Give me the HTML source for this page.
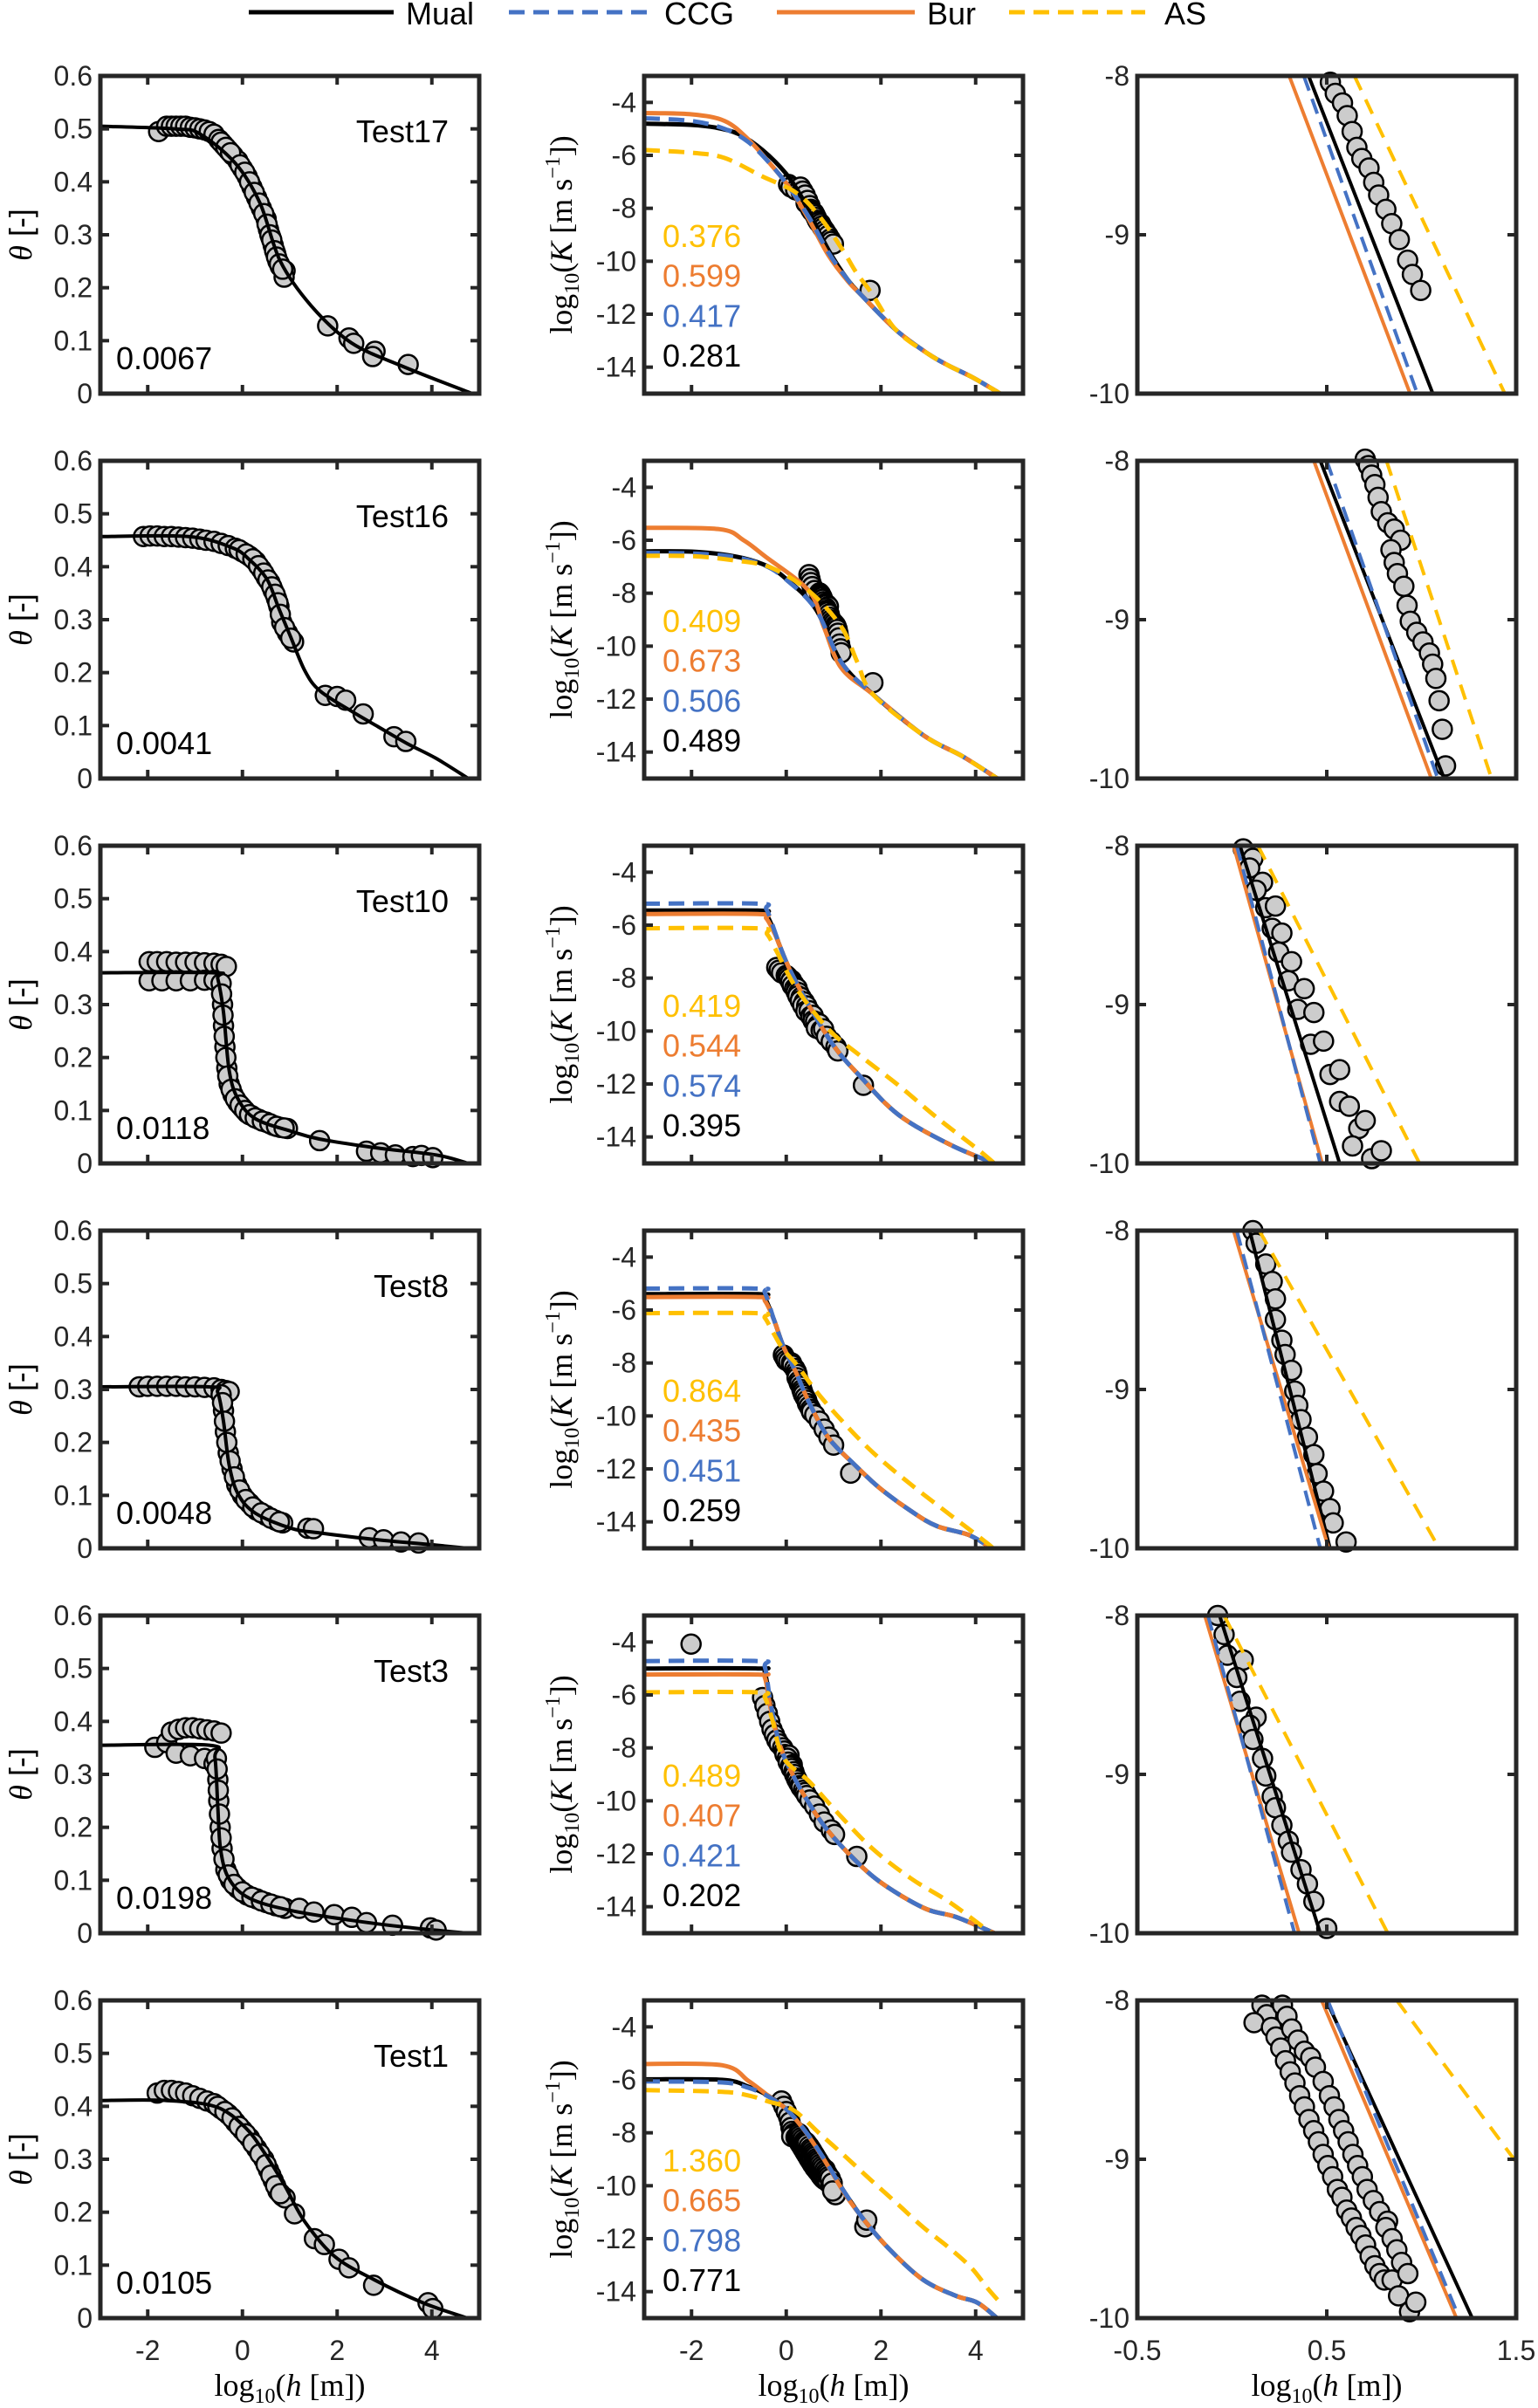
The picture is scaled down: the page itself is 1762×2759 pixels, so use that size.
<!DOCTYPE html>
<html><head><meta charset="utf-8">
<style>
html,body{margin:0;padding:0;background:#fff;}
svg{display:block;}
text{font-family:"Liberation Sans",sans-serif;}
.serif{font-family:"Liberation Serif",serif;}
</style></head>
<body>
<svg id="fig" xmlns="http://www.w3.org/2000/svg" width="1762" height="2759" viewBox="0 0 1762 2759">
<rect x="0" y="0" width="1762" height="2759" fill="#fff"/>
<g id="legend">
  <g><line x1="285" y1="14" x2="451" y2="14" stroke="#000" stroke-width="5"/><text x="465" y="28" font-size="36">Mual</text></g>
  <g><line x1="583" y1="14" x2="746" y2="14" stroke="#4472C4" stroke-width="5" stroke-dasharray="18 10"/><text x="761" y="28" font-size="36">CCG</text></g>
  <g><line x1="890" y1="14" x2="1048" y2="14" stroke="#ED7D31" stroke-width="5"/><text x="1062" y="28" font-size="36">Bur</text></g>
  <g><line x1="1156" y1="14" x2="1312" y2="14" stroke="#FFC000" stroke-width="5" stroke-dasharray="18 10"/><text x="1334" y="28" font-size="36">AS</text></g>
</g>
</svg>
<script>
const tests=["Test17","Test16","Test10","Test8","Test3","Test1"];
const rmseTheta=["0.0067","0.0041","0.0118","0.0048","0.0198","0.0105"];
const scoreAS=["0.376","0.409","0.419","0.864","0.489","1.360"];
const scoreBur=["0.599","0.673","0.544","0.435","0.407","0.665"];
const scoreCCG=["0.417","0.506","0.574","0.451","0.421","0.798"];
const scoreMual=["0.281","0.489","0.395","0.259","0.202","0.771"];

const thetaTicks=[0,0.1,0.2,0.3,0.4,0.5,0.6];
const thetaTickLabels=["0","0.1","0.2","0.3","0.4","0.5","0.6"];
const hTicks=[-2,0,2,4];
const hTickLabels=["-2","0","2","4"];
const kTicks=[-4,-6,-8,-10,-12,-14];
const kTickLabels=["-4","-6","-8","-10","-12","-14"];
const zxTicks=[-0.5,0.5,1.5];
const zxTickLabels=["-0.5","0.5","1.5"];
const zyTicks=[-8,-9,-10];
const zyTickLabels=["-8","-9","-10"];

const thetaFit=[
[[-3,0.505],[-1.4,0.50],[-0.89,0.49],[-0.15,0.435],[0.37,0.36],[0.8,0.25],[1.45,0.166],[2.3,0.096],[3.4,0.051],[4.85,0.0]],
[[-3,0.457],[-1.14,0.457],[-0.22,0.436],[0.15,0.413],[0.52,0.376],[0.77,0.321],[1.02,0.267],[1.32,0.203],[1.63,0.166],[2.25,0.130],[2.86,0.098],[3.48,0.066],[4.09,0.038],[4.77,0]],
[[-3,0.36],[-0.6,0.36],[-0.52,0.349],[-0.4,0.285],[-0.28,0.175],[-0.09,0.121],[0.28,0.084],[1.02,0.061],[1.63,0.046],[2.86,0.029],[4.09,0.016],[4.77,0]],
[[-3,0.305],[-0.71,0.305],[-0.52,0.294],[-0.4,0.239],[-0.28,0.157],[-0.09,0.102],[0.28,0.066],[1.02,0.038],[1.63,0.029],[2.86,0.016],[4.09,0.006],[4.77,0]],
[[-3,0.355],[-0.7,0.355],[-0.58,0.331],[-0.52,0.239],[-0.46,0.157],[-0.28,0.102],[0.15,0.066],[1.02,0.043],[2.25,0.025],[3.48,0.011],[4.77,0]],
[[-3,0.411],[-1.6,0.411],[-0.56,0.399],[0.06,0.36],[0.48,0.31],[0.9,0.249],[1.31,0.183],[1.94,0.117],[2.77,0.073],[3.81,0.029],[4.75,0]]
];
const thetaObs=[
[[-1.77,0.495],[-1.6,0.505],[-1.5,0.505],[-1.4,0.505],[-1.3,0.505],[-1.2,0.505],[-1.1,0.503],[-1.0,0.502],[-0.9,0.5],[-0.8,0.498],[-0.7,0.495],[-0.6,0.49],[-0.5,0.48],[-0.4,0.47],[-0.3,0.46],[-0.2,0.45],[-0.1,0.44],[0.0,0.425],[0.1,0.41],[0.2,0.39],[0.3,0.37],[0.4,0.35],[0.5,0.33],[0.55,0.31],[0.6,0.295],[0.65,0.28],[0.7,0.265],[0.75,0.25],[0.8,0.24],[0.9,0.232],[0.88,0.22],[-0.45,0.475],[-0.35,0.465],[-0.25,0.455],[-0.05,0.432],[0.05,0.418],[0.15,0.4],[0.25,0.38],[0.35,0.36],[0.45,0.34],[0.52,0.32],[0.58,0.3],[0.62,0.29],[0.68,0.27],[0.72,0.258],[0.78,0.245],[0.85,0.235],[1.8,0.128],[2.25,0.105],[2.35,0.095],[2.8,0.08],[2.75,0.07],[3.5,0.055]],
[[-2.09,0.457],[-1.95,0.458],[-1.8,0.458],[-1.65,0.457],[-1.5,0.457],[-1.35,0.456],[-1.2,0.455],[-1.05,0.454],[-0.9,0.452],[-0.77,0.45],[-0.6,0.448],[-0.45,0.444],[-0.3,0.44],[-0.15,0.435],[0.0,0.428],[0.15,0.42],[0.28,0.41],[0.4,0.395],[0.5,0.38],[0.58,0.37],[0.65,0.355],[0.72,0.34],[0.77,0.325],[0.83,0.295],[0.95,0.275],[1.08,0.258],[-0.07,0.432],[0.08,0.424],[0.22,0.415],[0.34,0.402],[0.45,0.388],[0.54,0.375],[0.62,0.362],[0.69,0.348],[0.75,0.332],[0.8,0.31],[0.89,0.285],[1.02,0.265],[1.75,0.157],[2.0,0.155],[2.18,0.148],[2.55,0.122],[3.2,0.079],[3.45,0.07]],
[[-1.97,0.381],[-1.8,0.381],[-1.6,0.381],[-1.4,0.38],[-1.2,0.38],[-1.0,0.38],[-0.8,0.379],[-0.6,0.378],[-0.45,0.376],[-0.34,0.372],[-1.97,0.345],[-1.7,0.345],[-1.4,0.345],[-1.1,0.345],[-0.8,0.346],[-0.6,0.346],[-0.45,0.34],[-0.42,0.3],[-0.4,0.26],[-0.37,0.22],[-0.33,0.18],[-0.28,0.15],[-0.2,0.13],[-0.1,0.115],[0.0,0.105],[0.1,0.095],[0.2,0.09],[0.35,0.083],[0.5,0.078],[0.65,0.072],[0.8,0.068],[0.95,0.066],[-0.44,0.32],[-0.41,0.28],[-0.385,0.24],[-0.35,0.2],[-0.31,0.165],[-0.24,0.14],[-0.15,0.122],[-0.05,0.11],[0.05,0.1],[0.15,0.092],[0.27,0.086],[0.42,0.08],[0.58,0.075],[0.72,0.07],[0.88,0.067],[1.63,0.043],[2.62,0.023],[2.92,0.02],[3.23,0.016],[3.6,0.013],[3.78,0.015],[4.02,0.011]],
[[-2.18,0.305],[-2.0,0.306],[-1.8,0.306],[-1.6,0.306],[-1.4,0.306],[-1.2,0.305],[-1.0,0.305],[-0.8,0.304],[-0.6,0.303],[-0.45,0.3],[-0.35,0.298],[-0.28,0.296],[-0.45,0.29],[-0.4,0.26],[-0.36,0.22],[-0.3,0.18],[-0.22,0.15],[-0.12,0.12],[0.0,0.1],[0.15,0.085],[0.3,0.072],[0.5,0.062],[0.7,0.053],[0.85,0.048],[-0.42,0.275],[-0.38,0.24],[-0.33,0.2],[-0.26,0.165],[-0.17,0.135],[-0.06,0.11],[0.07,0.092],[0.22,0.078],[0.4,0.067],[0.6,0.057],[0.78,0.05],[1.38,0.038],[1.5,0.037],[2.68,0.02],[2.98,0.016],[3.35,0.012],[3.72,0.01]],
[[-1.85,0.351],[-1.6,0.36],[-1.5,0.38],[-1.35,0.385],[-1.2,0.388],[-1.05,0.388],[-0.9,0.386],[-0.75,0.384],[-0.6,0.382],[-0.45,0.378],[-1.4,0.34],[-1.1,0.335],[-0.8,0.33],[-0.6,0.32],[-0.55,0.33],[-0.52,0.29],[-0.5,0.25],[-0.47,0.2],[-0.43,0.16],[-0.35,0.12],[-0.25,0.1],[-0.1,0.085],[0.1,0.072],[0.3,0.065],[0.5,0.058],[0.7,0.052],[0.9,0.047],[-0.535,0.31],[-0.51,0.27],[-0.485,0.225],[-0.45,0.18],[-0.39,0.14],[-0.3,0.11],[-0.18,0.092],[0.0,0.078],[0.2,0.068],[0.4,0.061],[0.6,0.055],[0.8,0.05],[1.2,0.047],[1.51,0.04],[1.94,0.035],[2.31,0.03],[2.62,0.02],[3.17,0.015],[3.97,0.01],[4.09,0.006]],
[[-1.8,0.425],[-1.65,0.43],[-1.5,0.43],[-1.35,0.428],[-1.2,0.425],[-1.05,0.42],[-0.9,0.415],[-0.75,0.41],[-0.6,0.405],[-0.45,0.395],[-0.3,0.385],[-0.15,0.37],[0.0,0.355],[0.15,0.34],[0.3,0.32],[0.45,0.3],[0.55,0.28],[0.65,0.26],[0.75,0.24],[0.85,0.23],[0.9,0.227],[-0.52,0.4],[-0.37,0.39],[-0.22,0.378],[-0.07,0.362],[0.07,0.348],[0.22,0.33],[0.37,0.31],[0.5,0.29],[0.6,0.27],[0.7,0.25],[0.8,0.235],[1.1,0.197],[1.52,0.15],[1.73,0.139],[2.04,0.111],[2.25,0.095],[2.77,0.062],[3.92,0.029],[4.02,0.018]]
];

const kMual=[
[[-3,-4.8],[-2,-4.85],[-1.5,-4.95],[-1,-5.2],[-0.5,-5.8],[0,-6.7],[0.3,-7.5],[0.5,-8.2],[0.9,-9.6],[1.3,-10.7],[1.6,-11.3],[2.32,-12.6],[3.0,-13.5],[3.45,-13.96],[3.95,-14.4],[4.52,-15]],
[[-3,-6.42],[-2,-6.43],[-1.14,-6.59],[-0.5,-6.9],[-0.06,-7.37],[0.62,-8.59],[1.16,-10.6],[1.83,-11.82],[2.91,-13.38],[3.72,-14.16],[4.46,-15]],
[[-3,-5.45],[-0.6,-5.45],[-0.42,-5.6],[-0.25,-6.25],[-0.13,-6.81],[0.08,-7.7],[0.48,-9.04],[1.02,-10.6],[1.56,-11.71],[2.37,-13.16],[3.45,-14.28],[4.4,-15]],
[[-3,-5.40],[-0.6,-5.40],[-0.45,-5.55],[-0.26,-6.36],[-0.06,-7.37],[0.21,-8.37],[0.48,-9.48],[0.89,-10.82],[1.43,-11.82],[1.97,-12.72],[2.64,-13.6],[3.18,-14.16],[3.86,-14.5],[4.33,-15]],
[[-3,-5.0],[-0.6,-5.0],[-0.45,-5.15],[-0.33,-6.4],[-0.13,-7.92],[0.21,-9.26],[0.75,-10.82],[1.29,-11.94],[1.97,-13.05],[2.91,-14.05],[3.59,-14.39],[4.4,-15]],
[[-3,-5.98],[-1.35,-6.0],[-0.8,-6.26],[-0.39,-6.59],[0.02,-7.14],[0.43,-8.0],[0.84,-9.1],[1.25,-10.3],[1.66,-11.33],[2.2,-12.44],[2.88,-13.54],[3.57,-14.15],[4.04,-14.42],[4.45,-15]]
];
const kCCG=[
[[-3,-4.6],[-2,-4.7],[-1.3,-5.0],[-0.8,-5.5],[-0.3,-6.4],[0.1,-7.3],[0.5,-8.4],[0.9,-9.7],[1.3,-10.7],[1.6,-11.3],[2.32,-12.6],[3.0,-13.5],[3.45,-13.96],[3.95,-14.4],[4.52,-15]],
[[-3,-6.48],[-2,-6.5],[-1.14,-6.62],[-0.5,-6.92],[-0.06,-7.4],[0.62,-8.6],[1.16,-10.6],[1.83,-11.82],[2.91,-13.38],[3.72,-14.16],[4.46,-15]],
[[-3,-5.19],[-0.6,-5.19],[-0.42,-5.4],[-0.25,-6.2],[-0.13,-6.81],[0.08,-7.7],[0.48,-9.04],[1.02,-10.6],[1.56,-11.71],[2.37,-13.16],[3.45,-14.28],[4.4,-15]],
[[-3,-5.19],[-0.6,-5.19],[-0.45,-5.35],[-0.26,-6.36],[-0.06,-7.37],[0.21,-8.37],[0.48,-9.48],[0.89,-10.82],[1.43,-11.82],[1.97,-12.72],[2.64,-13.6],[3.18,-14.16],[3.86,-14.5],[4.33,-15]],
[[-3,-4.72],[-0.6,-4.72],[-0.45,-4.95],[-0.33,-6.3],[-0.13,-7.92],[0.21,-9.26],[0.75,-10.82],[1.29,-11.94],[1.97,-13.05],[2.91,-14.05],[3.59,-14.39],[4.4,-15]],
[[-3,-6.06],[-1.35,-6.1],[-0.8,-6.3],[-0.39,-6.62],[0.02,-7.14],[0.43,-8.0],[0.84,-9.1],[1.25,-10.3],[1.66,-11.33],[2.2,-12.44],[2.88,-13.54],[3.57,-14.15],[4.04,-14.42],[4.45,-15]]
];
const kBur=[
[[-3,-4.4],[-2,-4.45],[-1.3,-4.7],[-0.8,-5.4],[-0.3,-6.4],[0.1,-7.3],[0.5,-8.5],[0.9,-9.8],[1.3,-10.75],[1.6,-11.3],[2.32,-12.6],[3.0,-13.5],[3.45,-13.96],[3.95,-14.4],[4.52,-15]],
[[-3,-5.53],[-1.41,-5.58],[-0.9,-6.0],[-0.46,-6.59],[0.48,-7.92],[0.8,-9.3],[1.16,-10.82],[1.83,-11.82],[2.91,-13.38],[3.72,-14.16],[4.46,-15]],
[[-3,-5.58],[-0.6,-5.58],[-0.42,-5.75],[-0.25,-6.3],[-0.13,-6.81],[0.08,-7.7],[0.48,-9.04],[1.02,-10.6],[1.56,-11.71],[2.37,-13.16],[3.45,-14.28],[4.4,-15]],
[[-3,-5.51],[-0.6,-5.51],[-0.45,-5.65],[-0.26,-6.36],[-0.06,-7.37],[0.21,-8.37],[0.48,-9.48],[0.89,-10.82],[1.43,-11.82],[1.97,-12.72],[2.64,-13.6],[3.18,-14.16],[3.86,-14.5],[4.33,-15]],
[[-3,-5.23],[-0.6,-5.23],[-0.45,-5.35],[-0.33,-6.5],[-0.13,-7.92],[0.21,-9.26],[0.75,-10.82],[1.29,-11.94],[1.97,-13.05],[2.91,-14.05],[3.59,-14.39],[4.4,-15]],
[[-3,-5.4],[-1.35,-5.45],[-0.8,-6.04],[-0.39,-6.59],[0.02,-7.14],[0.43,-8.02],[0.84,-9.13],[1.25,-10.34],[1.66,-11.33],[2.2,-12.44],[2.88,-13.54],[3.57,-14.15],[4.04,-14.42],[4.45,-15]]
];
const kAS=[
[[-3,-5.8],[-2,-5.9],[-1.3,-6.1],[-0.5,-6.8],[0.2,-7.4],[0.7,-8.3],[1.2,-9.6],[1.47,-10.4],[1.8,-11.2],[2.32,-12.6],[3.0,-13.5],[3.45,-13.96],[3.95,-14.4],[4.52,-15]],
[[-3,-6.59],[-2,-6.6],[-1.14,-6.75],[-0.33,-7.03],[0.48,-7.92],[1.16,-9.26],[1.5,-10.6],[1.83,-11.82],[2.91,-13.38],[3.72,-14.16],[4.46,-15]],
[[-3,-6.12],[-0.6,-6.12],[-0.4,-6.35],[-0.2,-7.0],[0.21,-8.37],[0.89,-9.93],[1.56,-10.93],[2.37,-12.05],[3.18,-13.27],[3.99,-14.39],[4.4,-15]],
[[-3,-6.12],[-0.6,-6.12],[-0.45,-6.3],[-0.26,-6.9],[-0.06,-7.5],[0.21,-8.04],[0.62,-9.04],[1.16,-10.15],[1.83,-11.38],[2.64,-12.6],[3.45,-13.72],[4.26,-14.83],[4.35,-15]],
[[-3,-5.9],[-0.6,-5.9],[-0.45,-6.1],[-0.3,-6.9],[-0.06,-8.37],[0.48,-9.26],[1.16,-10.6],[1.83,-11.82],[2.64,-12.94],[3.45,-13.83],[4.33,-15]],
[[-3,-6.39],[-1.35,-6.45],[-0.8,-6.59],[-0.39,-6.81],[0.15,-7.14],[0.7,-8.02],[1.25,-8.9],[1.79,-9.79],[2.34,-10.67],[2.88,-11.55],[3.43,-12.33],[3.91,-13.1],[4.25,-13.87],[4.52,-14.42]]
];
const kObs=[
[[0.05,-7.1],[0.1,-7.2],[0.2,-7.3],[0.3,-7.2],[0.32,-7.4],[0.35,-7.35],[0.4,-7.5],[0.42,-7.8],[0.45,-7.7],[0.5,-7.9],[0.519,-8.04],[0.545,-8.11],[0.583,-8.17],[0.608,-8.25],[0.634,-8.35],[0.659,-8.45],[0.685,-8.52],[0.723,-8.58],[0.748,-8.67],[0.774,-8.75],[0.812,-8.84],[0.843,-8.93],[0.883,-9.03],[0.927,-9.16],[0.952,-9.25],[0.996,-9.35],[1.77,-11.1]],
[[0.48,-7.3],[0.5,-7.45],[0.52,-7.6],[0.55,-7.75],[0.6,-7.9],[0.703,-7.99],[0.72,-8.03],[0.737,-8.09],[0.754,-8.15],[0.771,-8.23],[0.788,-8.32],[0.822,-8.39],[0.856,-8.43],[0.89,-8.5],[0.839,-8.56],[0.856,-8.64],[0.873,-8.71],[0.907,-8.79],[0.924,-8.91],[0.941,-9.01],[0.975,-9.08],[1.008,-9.14],[1.042,-9.21],[1.059,-9.28],[1.076,-9.37],[1.093,-9.51],[1.11,-9.69],[1.127,-9.92],[1.15,-10.1],[1.16,-10.25],[1.83,-11.38]],
[[-0.2,-7.6],[-0.15,-7.7],[-0.1,-7.8],[0.0,-7.9],[0.03,-7.95],[0.059,-8.02],[0.11,-8.08],[0.093,-8.14],[0.161,-8.23],[0.127,-8.28],[0.178,-8.39],[0.229,-8.38],[0.212,-8.52],[0.263,-8.55],[0.246,-8.67],[0.314,-8.73],[0.297,-8.85],[0.381,-8.9],[0.347,-9.03],[0.432,-9.05],[0.415,-9.25],[0.483,-9.23],[0.517,-9.44],[0.568,-9.41],[0.568,-9.61],[0.619,-9.64],[0.669,-9.78],[0.703,-9.73],[0.636,-9.89],[0.737,-9.97],[0.788,-9.92],[0.85,-10.2],[0.95,-10.4],[1.05,-10.6],[1.09,-10.75],[1.63,-12.05]],
[[-0.06,-7.7],[-0.03,-7.8],[0.0,-7.9],[0.05,-7.95],[0.11,-8.0],[0.127,-8.08],[0.178,-8.21],[0.212,-8.32],[0.229,-8.43],[0.229,-8.56],[0.263,-8.69],[0.28,-8.78],[0.314,-8.88],[0.331,-9.01],[0.347,-9.1],[0.364,-9.19],[0.398,-9.3],[0.432,-9.41],[0.449,-9.53],[0.483,-9.64],[0.517,-9.75],[0.534,-9.84],[0.602,-9.96],[0.7,-10.2],[0.8,-10.5],[0.9,-10.8],[1.0,-11.1],[1.36,-12.16]],
[[-2.01,-4.08],[-0.5,-6.1],[-0.45,-6.4],[-0.4,-6.7],[-0.35,-7.0],[-0.3,-7.3],[-0.25,-7.5],[-0.2,-7.7],[-0.15,-7.85],[-0.076,-8.0],[-0.042,-8.12],[-0.025,-8.25],[0.059,-8.28],[0.025,-8.39],[0.042,-8.54],[0.127,-8.64],[0.093,-8.69],[0.11,-8.78],[0.161,-8.9],[0.178,-9.01],[0.212,-9.14],[0.229,-9.21],[0.263,-9.32],[0.297,-9.42],[0.314,-9.49],[0.364,-9.6],[0.398,-9.69],[0.432,-9.8],[0.5,-9.97],[0.6,-10.2],[0.7,-10.5],[0.8,-10.8],[0.95,-11.1],[1.02,-11.27],[1.49,-12.1]],
[[-0.1,-6.8],[-0.05,-7.0],[0,-7.2],[0.05,-7.4],[0.08,-7.6],[0.1,-7.8],[0.12,-7.95],[0.158,-8.03],[0.183,-8.09],[0.116,-8.14],[0.208,-8.17],[0.232,-8.23],[0.257,-8.30],[0.282,-8.38],[0.307,-8.45],[0.332,-8.52],[0.357,-8.60],[0.382,-8.67],[0.406,-8.75],[0.431,-8.82],[0.456,-8.89],[0.481,-8.97],[0.506,-9.04],[0.531,-9.11],[0.556,-9.19],[0.580,-9.24],[0.605,-9.32],[0.630,-9.37],[0.655,-9.43],[0.680,-9.48],[0.705,-9.54],[0.729,-9.61],[0.754,-9.67],[0.779,-9.72],[0.804,-9.76],[0.845,-9.76],[0.879,-9.86],[0.937,-9.96],[0.266,-8.03],[0.290,-8.10],[0.315,-8.18],[0.348,-8.25],[0.382,-8.32],[0.415,-8.36],[0.440,-8.42],[0.481,-8.51],[0.514,-8.60],[0.539,-8.67],[0.564,-8.75],[0.589,-8.82],[0.613,-8.89],[0.638,-8.97],[0.663,-9.04],[0.688,-9.11],[0.713,-9.19],[0.746,-9.26],[0.779,-9.33],[0.821,-9.39],[0.812,-9.43],[0.845,-9.50],[0.870,-9.57],[0.895,-9.65],[0.928,-9.72],[0.970,-9.90],[1.04,-10.34],[0.98,-10.2],[1.66,-11.55],[1.7,-11.3]]
];
const zMual=[[[0.404,-8],[1.06,-10]],[[0.466,-8],[1.12,-10]],[[0.042,-8],[0.568,-10]],[[0.093,-8],[0.517,-10]],[[-0.066,-8],[0.466,-10]],[[0.498,-8],[1.268,-10]]];
const zCCG=[[[0.379,-8],[0.978,-10]],[[0.5,-8],[1.086,-10]],[[0.025,-8],[0.466,-10]],[[0.025,-8],[0.466,-10]],[[-0.127,-8],[0.33,-10]],[[0.505,-8],[1.2,-10]]];
const zBur=[[[0.302,-8],[0.94,-10]],[[0.432,-8],[1.052,-10]],[[0.008,-8],[0.476,-10]],[[0.008,-8],[0.51,-10]],[[-0.144,-8],[0.354,-10]],[[0.473,-8],[1.185,-10]]];
const zAS=[[[0.646,-8],[1.44,-10]],[[0.815,-8],[1.37,-10]],[[0.137,-8],[0.99,-10]],[[0.144,-8],[1.093,-10]],[[-0.042,-8],[0.822,-10]],[[0.87,-8],[1.52,-9.05]]];

const NS="http://www.w3.org/2000/svg";
const svg=document.getElementById('fig');
const colLeft=[115,738,1303], colW=434, rowTop0=87, rowPitch=441, rowH=364;
const FRAME="#262626";
function mk(tag,attrs,parent){const e=document.createElementNS(NS,tag);for(const k in attrs)e.setAttribute(k,attrs[k]);(parent||svg).appendChild(e);return e;}
function lin(d0,d1,r0,r1){return v=>r0+(v-d0)/(d1-d0)*(r1-r0);}
function smoothPath(pts,sx,sy){
  const P=pts.map(p=>[sx(p[0]),sy(p[1])]);
  let d="M"+P[0][0].toFixed(1)+","+P[0][1].toFixed(1);
  for(let i=0;i<P.length-1;i++){
    const p0=P[Math.max(0,i-1)],p1=P[i],p2=P[i+1],p3=P[Math.min(P.length-1,i+2)];
    const c1=[p1[0]+(p2[0]-p0[0])/6,p1[1]+(p2[1]-p0[1])/6];
    const c2=[p2[0]-(p3[0]-p1[0])/6,p2[1]-(p3[1]-p1[1])/6];
    d+=" C"+c1[0].toFixed(1)+","+c1[1].toFixed(1)+" "+c2[0].toFixed(1)+","+c2[1].toFixed(1)+" "+p2[0].toFixed(1)+","+p2[1].toFixed(1);
  }
  return d;
}
function axesFrame(g,L,T,xs,ys,xticks,yticks,ylabels,showX,xlabels){
  const R=L+colW,B=T+rowH;
  for(const t of xticks){const x=xs(t);
    mk('line',{x1:x,y1:B,x2:x,y2:B-10,stroke:FRAME,'stroke-width':4},g);
    mk('line',{x1:x,y1:T,x2:x,y2:T+10,stroke:FRAME,'stroke-width':4},g);}
  for(const t of yticks){const y=ys(t);
    mk('line',{x1:L,y1:y,x2:L+10,y2:y,stroke:FRAME,'stroke-width':4},g);
    mk('line',{x1:R,y1:y,x2:R-10,y2:y,stroke:FRAME,'stroke-width':4},g);}
  mk('rect',{x:L,y:T,width:colW,height:rowH,fill:'none',stroke:FRAME,'stroke-width':5},g);
  yticks.forEach((t,i)=>{const tx=mk('text',{x:L-9,y:ys(t)+11,'font-size':32,'text-anchor':'end',fill:FRAME},g);tx.textContent=ylabels[i];
    
    });
  if(showX){xticks.forEach((t,i)=>{const tx=mk('text',{x:xs(t),y:B+48,'font-size':32,'text-anchor':'middle',fill:FRAME},g);tx.textContent=xlabels[i];
    
    });}
}
function circles(g,pts,xs,ys,xr,yr,r){
  for(const p of pts){
    if(p[0]<xr[0]||p[0]>xr[1]||p[1]<yr[0]||p[1]>yr[1])continue;
    const c=mk('circle',{cx:xs(p[0]),cy:ys(p[1]),r:r,fill:'#cccccc',stroke:'#000','stroke-width':2.5},g);
    
    
  }
}
function curve(g,pts,xs,ys,color,w,dash,clip,name){
  const p=mk('path',{d:smoothPath(pts,xs,ys),fill:'none',stroke:color,'stroke-width':w,'clip-path':'url(#'+clip+')','stroke-linejoin':'round'},g);
  if(dash)p.setAttribute('stroke-dasharray',dash);
  
  
}
const defs=mk('defs',{});
for(let r=0;r<6;r++){
  const T=rowTop0+r*rowPitch, B=T+rowH, last=(r===5);
  for(let c=0;c<3;c++){const cp=mk('clipPath',{id:'clip'+r+'_'+c},defs);mk('rect',{x:colLeft[c],y:T,width:colW,height:rowH},cp);}
  {
    const L=colLeft[0];const xs=lin(-3,5,L,L+colW), ys=lin(0,0.6,B,T);
    const g=mk('g',{});
    
    
    circles(g,thetaObs[r],xs,ys,[-3,5],[0,0.6],11);
    curve(g,thetaFit[r],xs,ys,'#000',4,null,'clip'+r+'_0','theta-fit-curve');
    axesFrame(g,L,T,xs,ys,hTicks,thetaTicks,thetaTickLabels,last,hTickLabels);
    const t1=mk('text',{x:514,y:T+76,'font-size':36,'text-anchor':'end'},g);t1.textContent=tests[r];
    
    
    const t2=mk('text',{x:133,y:T+336,'font-size':36},g);t2.textContent=rmseTheta[r];
    
    
    const yl=mk('text',{x:0,y:0,'font-size':36,'text-anchor':'middle',transform:'translate(36,'+(T+rowH/2)+') rotate(-90)'},g);
    yl.innerHTML='<tspan class="serif" font-style="italic">θ</tspan> [-]';
    
    
  }
  {
    const L=colLeft[1];const xs=lin(-3,5,L,L+colW), ys=lin(-15,-3,B,T);
    const g=mk('g',{});
    
    
    circles(g,kObs[r],xs,ys,[-3,5],[-15,-3],11);
    curve(g,kMual[r],xs,ys,'#000',5,null,'clip'+r+'_1','mual-curve');
    curve(g,kBur[r],xs,ys,'#ED7D31',5,null,'clip'+r+'_1','bur-curve');
    curve(g,kCCG[r],xs,ys,'#4472C4',5,'18 10','clip'+r+'_1','ccg-curve');
    curve(g,kAS[r],xs,ys,'#FFC000',5,'18 10','clip'+r+'_1','as-curve');
    axesFrame(g,L,T,xs,ys,hTicks,kTicks,kTickLabels,last,hTickLabels);
    const vals=[[scoreAS[r],'#FFC000'],[scoreBur[r],'#ED7D31'],[scoreCCG[r],'#4472C4'],[scoreMual[r],'#000']];
    vals.forEach((v,i)=>{const t=mk('text',{x:759,y:T+196+i*45.7,'font-size':36,fill:v[1]},g);t.textContent=v[0];
      
      });
    const yl=mk('text',{x:0,y:0,'font-size':36,'text-anchor':'middle','class':'serif',transform:'translate(655,'+(T+rowH/2)+') rotate(-90)'},g);
    yl.innerHTML='log<tspan font-size="24" dy="8">10</tspan><tspan dy="-8">(</tspan><tspan font-style="italic">K</tspan> [m s<tspan font-size="24" dy="-14">−1</tspan><tspan dy="14">])</tspan>';
    
    
  }
  {
    const L=colLeft[2];const xs=lin(-0.5,1.5,L,L+colW), ys=lin(-10,-8,B,T);
    const g=mk('g',{});
    
    
    circles(g,kObs[r],xs,ys,[-0.5,1.5],[-10.02,-7.98],11);
    curve(g,zMual[r],xs,ys,'#000',4,null,'clip'+r+'_2','mual-zoom-line');
    curve(g,zBur[r],xs,ys,'#ED7D31',4,null,'clip'+r+'_2','bur-zoom-line');
    curve(g,zCCG[r],xs,ys,'#4472C4',4,'18 10','clip'+r+'_2','ccg-zoom-line');
    curve(g,zAS[r],xs,ys,'#FFC000',4,'18 12','clip'+r+'_2','as-zoom-line');
    axesFrame(g,L,T,xs,ys,zxTicks,zyTicks,zyTickLabels,last,zxTickLabels);
  }
}
[0,1,2].forEach(c=>{
  const t=mk('text',{x:colLeft[c]+colW/2,y:2745,'font-size':36,'text-anchor':'middle','class':'serif'});
  t.innerHTML='log<tspan font-size="24" dy="8">10</tspan><tspan dy="-8">(</tspan><tspan font-style="italic">h</tspan> [m])';
  
  
});
</script>
</body></html>
